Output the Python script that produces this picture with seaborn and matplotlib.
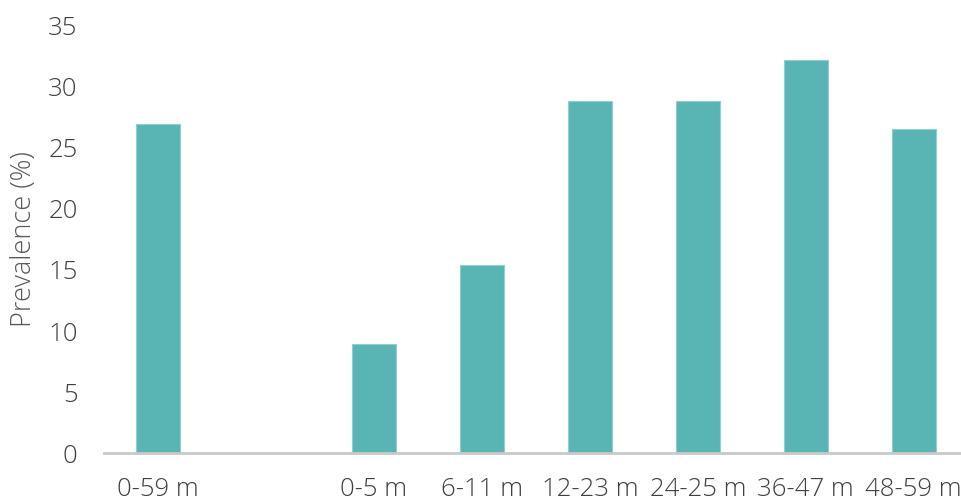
import numpy as np
import pandas as pd
import matplotlib
matplotlib.use("Agg")
import matplotlib.pyplot as plt
import seaborn as sns

# Age groups (blank slot separates the overall group from the breakdown)
age_groups = ["0-59 m", " ", "0-5 m", "6-11 m", "12-23 m", "24-25 m", "36-47 m", "48-59 m"]
prevalence = [26.8, np.nan, 8.9, 15.3, 28.7, 28.7, 32.1, 26.4]
y_ticks = [0, 5, 10, 15, 20, 25, 30, 35]

df = pd.DataFrame({"age": age_groups, "prevalence": prevalence})

sns.set_style("white")
plt.rcParams["font.family"] = ["Open Sans", "DejaVu Sans"]

fig = plt.figure(figsize=(9.62, 5.02), dpi=100)
ax = fig.add_axes([0.108, 0.0966, 0.898, 0.8534])

sns.barplot(data=df.dropna(), x="age", y="prevalence", order=age_groups,
            color="#58b5b4", saturation=1, width=0.41, ax=ax,
            edgecolor="#8fcfcd", linewidth=0.8)

ax.set_xlim(-0.5, 7.5)
ax.set_ylim(0, 35)
ax.set_yticks(y_ticks)
ax.set_yticklabels([str(t) for t in y_ticks])

for side in ["top", "right", "left"]:
    ax.spines[side].set_visible(False)
ax.spines["bottom"].set_color("#c9c9c9")
ax.spines["bottom"].set_linewidth(2)

ax.tick_params(axis="both", length=0, labelsize=18.5, labelcolor="#404040")
ax.tick_params(axis="x", pad=17)
ax.tick_params(axis="y", pad=19)
for lab in ax.get_xticklabels() + ax.get_yticklabels():
    lab.set_fontweight("light")

ax.set_xlabel("")
ax.set_ylabel("Prevalence (%)", fontsize=19.5, color="#595959", fontweight="light")
ax.yaxis.set_label_coords(-0.076, 0.5)

fig.savefig("out.png", dpi=100)
